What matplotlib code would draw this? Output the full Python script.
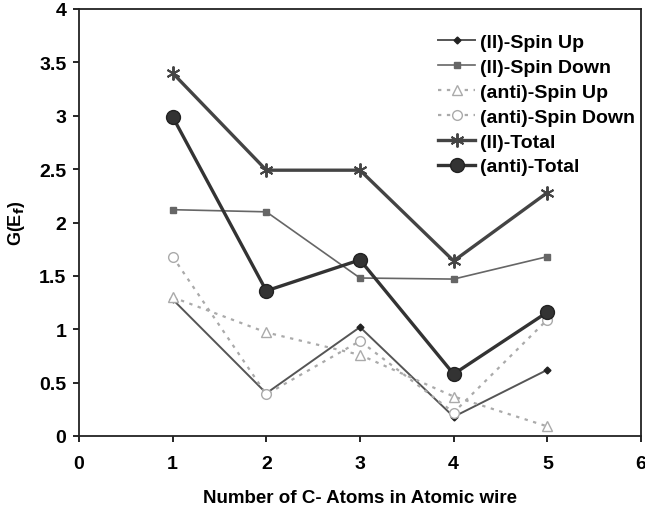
import matplotlib
matplotlib.use("Agg")
import matplotlib.pyplot as plt

plt.rcParams['font.family'] = ['Liberation Sans', 'DejaVu Sans']
plt.rcParams['font.weight'] = 'bold'

x = [1, 2, 3, 4, 5]
ll_up = [1.28, 0.40, 1.02, 0.18, 0.62]
ll_down = [2.12, 2.10, 1.48, 1.47, 1.68]
anti_up = [1.30, 0.97, 0.76, 0.37, 0.09]
anti_down = [1.68, 0.39, 0.89, 0.22, 1.09]
ll_total = [3.40, 2.49, 2.49, 1.64, 2.28]
anti_total = [2.99, 1.36, 1.65, 0.58, 1.16]

labels = ["(ll)-Spin Up", "(ll)-Spin Down", "(anti)-Spin Up",
          "(anti)-Spin Down", "(ll)-Total", "(anti)-Total"]
xticks = [0, 1, 2, 3, 4, 5, 6]
yticks = [0, 0.5, 1, 1.5, 2, 2.5, 3, 3.5, 4]
ytick_labels = ["0", "0.5", "1", "1.5", "2", "2.5", "3", "3.5", "4"]

fig = plt.figure(figsize=(6.45, 5.1), dpi=100)
ax = fig.add_axes([79/645, 73/510, 562/645, 427/510])

ax.plot(x, ll_up, color='#555555', lw=1.4, marker='D', ms=3.5,
        mfc='#222222', mec='#222222', label=labels[0])
ax.plot(x, ll_down, color='#666666', lw=1.2, marker='s', ms=4.5,
        mfc='#666666', mec='#666666', label=labels[1])
ax.plot(x, anti_up, color='#aaaaaa', lw=1.6, ls=(0, (1.5, 2.5)), marker='^', ms=7,
        mfc='white', mec='#aaaaaa', label=labels[2])
ax.plot(x, anti_down, color='#aaaaaa', lw=1.6, ls=(0, (1.5, 2.5)), marker='o', ms=7,
        mfc='white', mec='#aaaaaa', label=labels[3])
ax.plot(x, ll_total, color='#444444', lw=2.4, marker=(6, 2, 0), ms=10,
        mec='#444444', mew=1.4, label=labels[4])
ax.plot(x, anti_total, color='#333333', lw=2.4, marker='o', ms=10,
        mfc='#333333', mec='#222222', label=labels[5])

ax.set_xlim(0, 6)
ax.set_ylim(0, 4)
ax.set_xticks(xticks)
ax.set_yticks(yticks)
ax.set_yticklabels(ytick_labels)
ax.tick_params(axis='both', direction='out', length=4, width=1.2,
               labelsize=14)
ax.tick_params(axis='x', pad=10)
ax.tick_params(axis='y', pad=5)
for lab in ax.get_xticklabels() + ax.get_yticklabels():
    lab.set_fontweight('bold')
for s in ax.spines.values():
    s.set_linewidth(1.3)
    s.set_color('#222222')

ax.set_xlabel("Number of C- Atoms in Atomic wire", fontsize=13.5,
              fontweight='bold', labelpad=12)
ax.set_ylabel(r"G(E$_\mathbf{f}$)", fontsize=13, fontweight='bold', labelpad=9)

leg = ax.legend(loc='upper right', bbox_to_anchor=(1.007, 0.965), frameon=False,
                fontsize=14, handlelength=1.9, handletextpad=0.25,
                labelspacing=0.37, borderaxespad=0.1)
for t in leg.get_texts():
    t.set_fontweight('bold')

fig.savefig("out.png", dpi=100)
